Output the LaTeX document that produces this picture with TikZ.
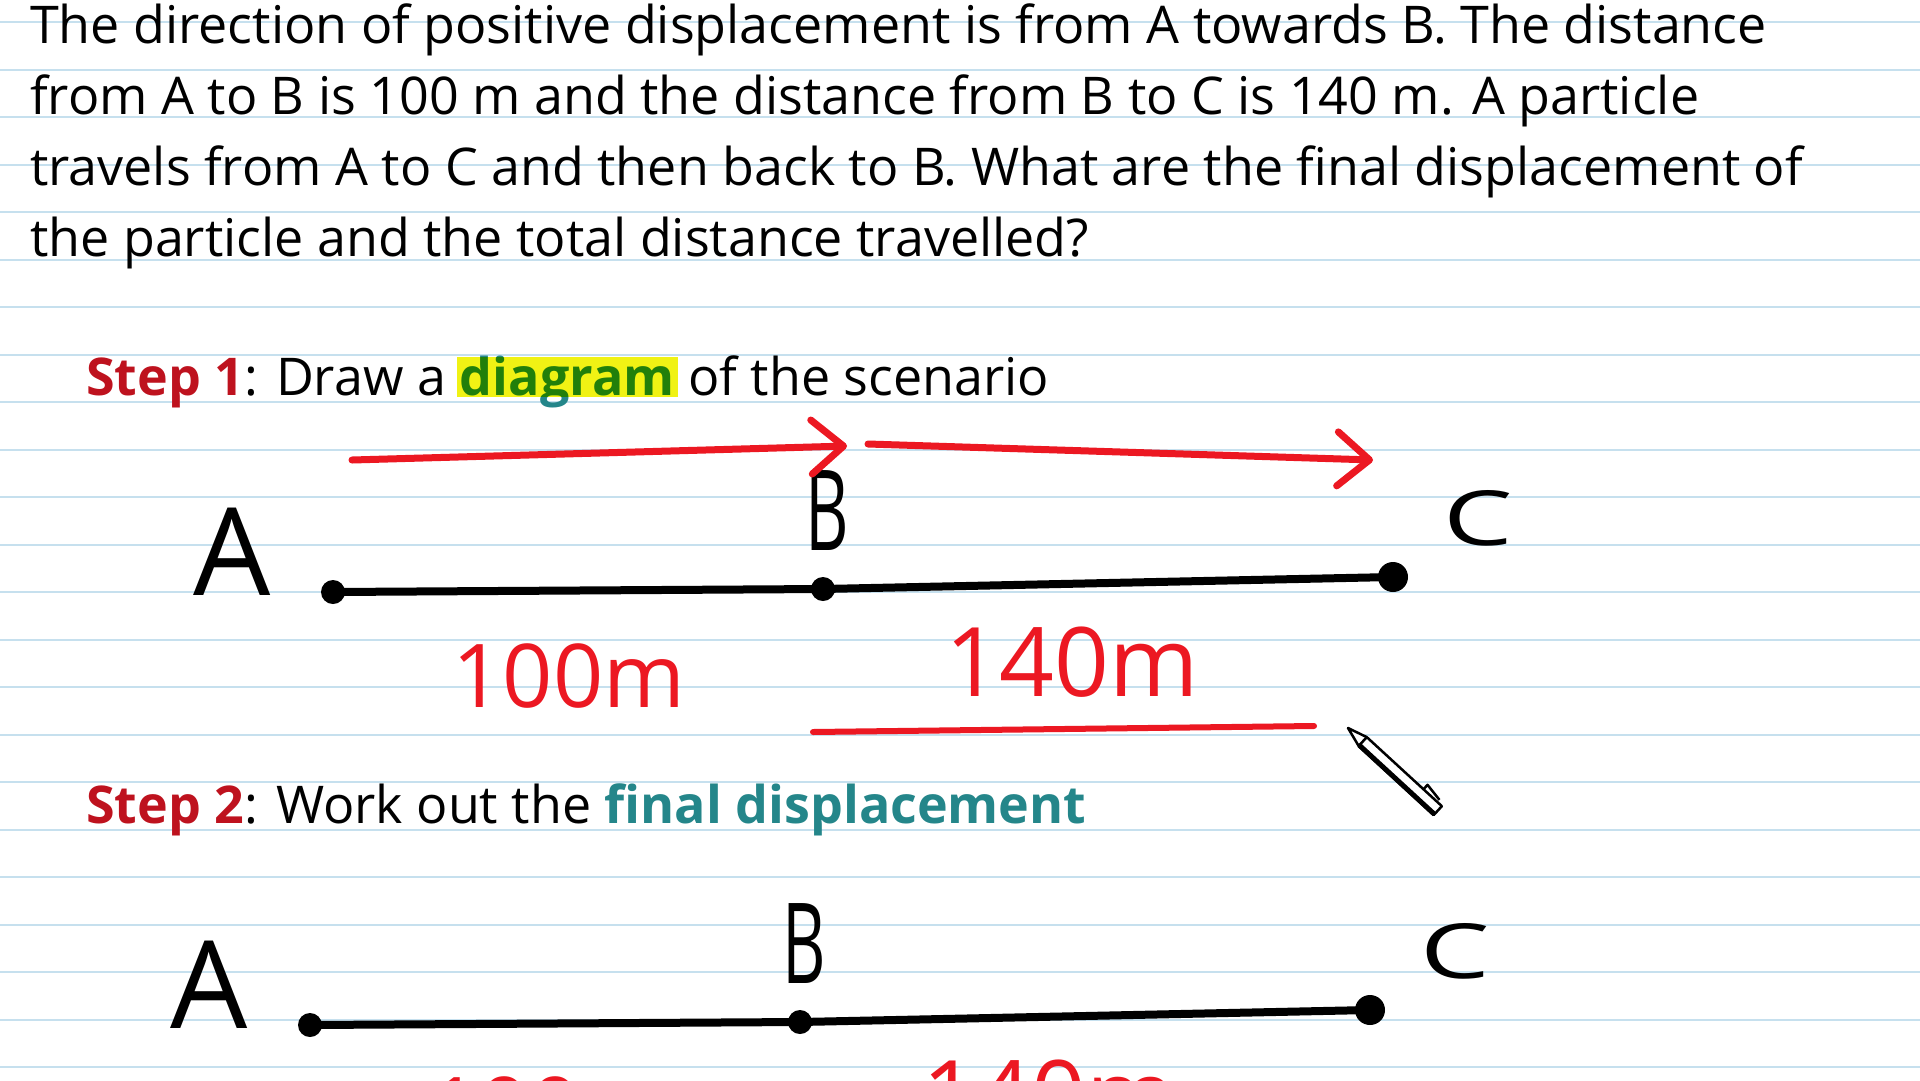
\documentclass[tikz,border=0pt]{standalone}
\usepackage{fontspec}
\setmainfont{Open Sans}
\usetikzlibrary{positioning}
\usetikzlibrary{calc}
\usetikzlibrary{arrows.meta}

\definecolor{ruleblue}{RGB}{198,224,238}
\definecolor{stepred}{RGB}{190,18,30}
\definecolor{keyteal}{RGB}{36,134,138}
\definecolor{penred}{RGB}{236,24,34}
\definecolor{hiyellow}{RGB}{240,242,20}

\tikzset{
  ruled/.style={draw=ruleblue, line width=2},
  qline/.style={anchor=base west, inner sep=0, font=\fontsize{52}{71}\selectfont},
  letter/.style={inner sep=0, font=\fontsize{#1}{#1}\selectfont},
  hand/.style={inner sep=0, text=penred, font=\fontsize{#1}{#1}\selectfont},
  dotpt/.style={circle, fill=black, inner sep=0},
  blackpen/.style={draw=black, line width=8, line cap=round},
  redpen/.style={draw=penred, line width=7, line cap=round, line join=round},
  redarrow/.style={redpen, -{Straight Barb[round, length=32pt, width=54pt]}},
  hilite/.style={fill=hiyellow, blend mode=multiply}
}

\begin{document}
\begin{tikzpicture}[x=1pt,y=-1pt]
\useasboundingbox (0,0) rectangle (1920,1080);
\clip (0,0) rectangle (1920,1080);
\fill[white] (0,0) rectangle (1920,1080);

% ruled paper
\foreach \k in {0,...,22}
  \draw[ruled] (0,22+47.5*\k) -- (1920,22+47.5*\k);

% question
\node[qline] (q1) at (30,43) {The direction of positive displacement is from A towards B. The distance};
\node[qline] (q2) at (30,114) {from A to B is 100 m and the distance from B to C is 140 m. A particle};
\node[qline] (q3) at (30,185) {travels from A to C and then back to B. What are the final displacement of};
\node[qline] (q4) at (30,256) {the particle and the total distance travelled?};

% step 1
\node[qline] (st1a) at (86,395) {\textcolor{stepred}{\bfseries Step 1}: Draw a\ \null};
\node[qline, text=keyteal] (st1b) at (st1a.base east) {\bfseries diagram};
\node[qline] (st1c) at (st1b.base east) {\ of the scenario};
\fill[hilite] ($(st1b.base west)+(-3,-38)$) rectangle ($(st1b.base east)+(3,2)$);

% diagram 1
\node[letter=122] (A1) at (232,552) {A};
\node[letter=112] (B1) at (827,511) {\scalebox{0.6}[1]{B}};
\node[letter=76] (C1) at (1478,518) {\scalebox{1.45}[1]{C}};
\node[dotpt, minimum size=24] (pA1) at (333,592) {};
\node[dotpt, minimum size=24] (pB1) at (823,589) {};
\node[dotpt, minimum size=30] (pC1) at (1393,577) {};
\draw[blackpen] (pA1.center) -- (pB1.center) -- (pC1.center);

\node[hand=88] (d1) at (569,676) {100m};
\node[hand=96] (d2) at (1072,662) {140m};

\coordinate (a1s) at (352,460);
\coordinate (a1e) at (847,446);
\coordinate (a2s) at (868,444);
\coordinate (a2e) at (1373,460);
\draw[redarrow] (a1s) -- (a1e);
\draw[redarrow] (a2s) -- (a2e);

\coordinate (u1) at (813,732);
\coordinate (u2) at (1314,726);
\draw[redpen, line width=6] (u1) -- (u2);

% pen cursor
\begin{scope}[shift={(1348,728)}, rotate=-42.6]
  \filldraw[fill=white, draw=black, line width=2.5, line join=round] (0,0) -- (20,-6) -- (122,-6) -- (122,6) -- (20,6) -- cycle;
  \draw[line width=5] (20,5) -- (122,5);
  \draw[line width=2.5] (20,-6) -- (20,6);
  \draw[line width=2.5, line join=round] (97,-6) -- (97,-12) -- (116,-9);
\end{scope}

% step 2
\node[qline] (st2) at (86,823) {\textcolor{stepred}{\bfseries Step 2}: Work out the \textcolor{keyteal}{\bfseries final displacement}};

% diagram 2
\node[letter=122] (A2) at (209,985) {A};
\node[letter=112] (B2) at (804,944) {\scalebox{0.6}[1]{B}};
\node[letter=76] (C2) at (1455,951) {\scalebox{1.45}[1]{C}};
\node[dotpt, minimum size=24] (pA2) at (310,1025) {};
\node[dotpt, minimum size=24] (pB2) at (800,1022) {};
\node[dotpt, minimum size=30] (pC2) at (1370,1010) {};
\draw[blackpen] (pA2.center) -- (pB2.center) -- (pC2.center);

\node[hand=88] (d3) at (546,1109) {100m};
\node[hand=96] (d4) at (1049,1095) {140m};

\end{tikzpicture}
\end{document}
